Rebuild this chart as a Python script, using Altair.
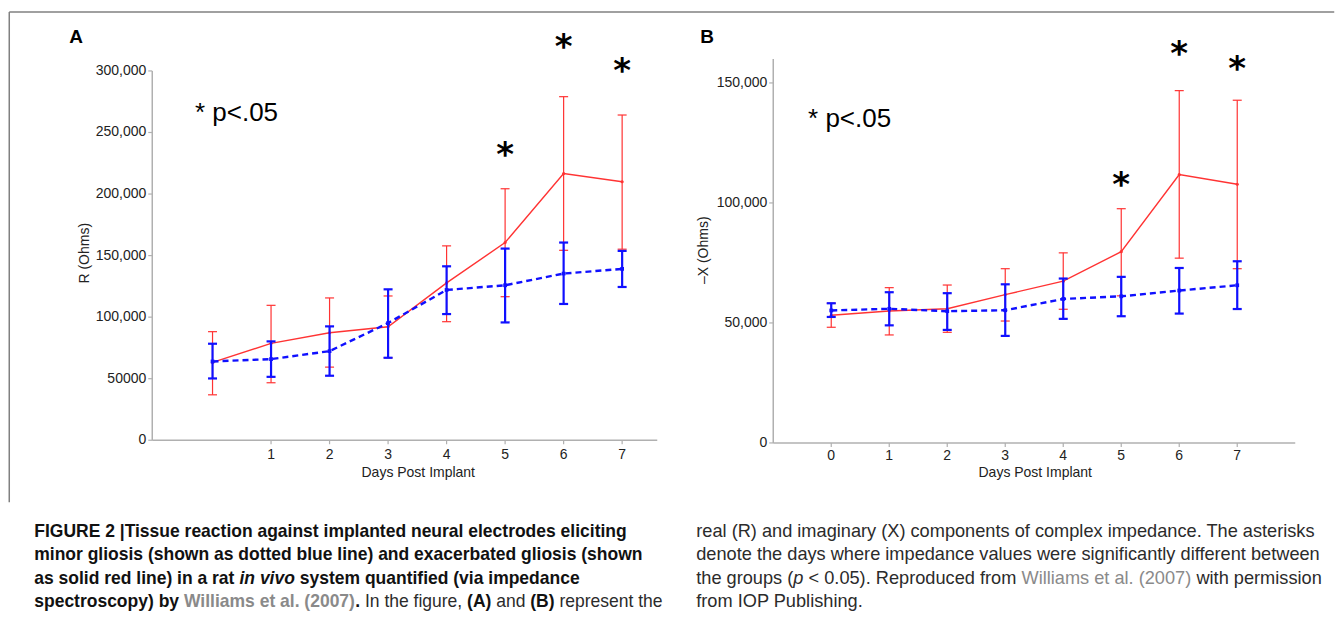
import altair as alt
import pandas as pd

# ---------------- data ----------------
days = [0, 1, 2, 3, 4, 5, 6, 7]

# Panel A : R (Ohms)
a_exac_mean = [63200, 78700, 87300, 92200, 127800, 160600, 216700, 210000]
a_exac_hi = [88200, 109600, 115600, 117200, 157900, 204300, 279100, 264200]
a_exac_lo = [36900, 46700, 59400, 67000, 96300, 116600, 154300, 155200]
a_minor_mean = [64000, 65900, 72400, 95200, 122100, 125900, 135400, 139200]
a_minor_hi = [78400, 80300, 92500, 122600, 141300, 155700, 160600, 153800]
a_minor_lo = [50200, 51500, 52400, 67000, 102500, 95700, 110700, 124500]

# Panel B : -X (Ohms)
b_exac_mean = [53200, 55000, 55900, 61800, 67400, 79700, 111800, 107800]
b_exac_hi = [58200, 64700, 65800, 72600, 79200, 97600, 146800, 142800]
b_exac_lo = [48200, 45000, 46100, 50800, 55700, 61300, 77000, 72600]
b_minor_mean = [55200, 55900, 54900, 55300, 60000, 61100, 63500, 65700]
b_minor_hi = [58200, 62800, 62400, 66100, 68500, 69200, 72900, 75700]
b_minor_lo = [52500, 49000, 47100, 44600, 51700, 52800, 53900, 55800]

# significance asterisks (day, height in data units)
a_star_days = [5, 6, 7]
a_star_vals = [237000, 325000, 306000]
b_star_days = [5, 6, 7]
b_star_vals = [110300, 164900, 158600]

# "* p<.05" note anchor (day, value)
a_note = (-0.30, 265600)
b_note = (-0.40, 134900)

# axis ticks and their labels
a_xticks = [1, 2, 3, 4, 5, 6, 7]
a_xlabels = ["1", "2", "3", "4", "5", "6", "7"]
a_yticks = [0, 50000, 100000, 150000, 200000, 250000, 300000]
a_ylabels = ["0", "50000", "100,000", "150,000", "200,000", "250,000", "300,000"]
b_xticks = [0, 1, 2, 3, 4, 5, 6, 7]
b_xlabels = ["0", "1", "2", "3", "4", "5", "6", "7"]
b_yticks = [0, 50000, 100000, 150000]
b_ylabels = ["0", "50,000", "100,000", "150,000"]

# ---------------- style / layout ----------------
RED = "#ff3333"
BLUE = "#1010ff"
AXIS = "#b0b0b0"
TXT = "#222222"
FONT = "Liberation Sans"

# page-pixel geometry of the two plot areas
A_LEFT, A_RIGHT, A_BOTTOM, A_TOP = 152, 657, 440, 70.7
B_LEFT, B_RIGHT, B_BOTTOM, B_TOP = 773, 1295, 442.7, 58.7
ROW_TOP = B_TOP
wA, hA = A_RIGHT - A_LEFT, A_BOTTOM - ROW_TOP
wB, hB = B_RIGHT - B_LEFT, B_BOTTOM - ROW_TOP


def AX(x):  # page x -> panel A local x
    return x - A_LEFT


def AY(y):  # page y -> panel A local y
    return y - ROW_TOP


xsA = alt.Scale(domain=[-1.03, 7.6], nice=False, zero=False)
ysA = alt.Scale(domain=[0, 300000], range=[hA, A_TOP - ROW_TOP], nice=False, zero=False)
xsB = alt.Scale(domain=[-1, 8], nice=False, zero=False)
ysB = alt.Scale(domain=[0, 160000], nice=False, zero=False)

one = pd.DataFrame({"a": [0]})


def axis_layers(xs, ys, xticks, xlabels, yticks, ylabels, w, h, ytop, lab_off):
    dom = alt.Chart(one).mark_rule(color=AXIS, strokeWidth=1.5)
    xdom = dom.encode(x=alt.value(0), x2=alt.value(w), y=alt.value(h))
    ydom = dom.encode(x=alt.value(0), y=alt.value(ytop), y2=alt.value(h))
    xt = pd.DataFrame({"v": xticks, "t": xlabels})
    yt = pd.DataFrame({"v": yticks, "t": ylabels})
    xtick = alt.Chart(xt).mark_rule(color=AXIS, strokeWidth=1.2).encode(
        x=alt.X("v:Q", scale=xs, axis=None), y=alt.value(h), y2=alt.value(h + 4))
    xlab = alt.Chart(xt).mark_text(font=FONT, fontSize=14, color=TXT, baseline="middle",
                                   align="center").encode(
        x=alt.X("v:Q", scale=xs, axis=None), y=alt.value(h + lab_off), text="t:N")
    ytick = alt.Chart(yt).mark_rule(color=AXIS, strokeWidth=1.2).encode(
        y=alt.Y("v:Q", scale=ys, axis=None), x=alt.value(-4), x2=alt.value(0))
    ylab = alt.Chart(yt).mark_text(font=FONT, fontSize=14, color=TXT, baseline="middle",
                                   align="right").encode(
        y=alt.Y("v:Q", scale=ys, axis=None), x=alt.value(-6), text="t:N")
    return [xdom, ydom, xtick, xlab, ytick, ylab]


def series(mean, lo, hi, color, lw, dash, cap_t, xs, ys, shape="circle", psize=10):
    df = pd.DataFrame({"day": days, "mean": mean, "lo": lo, "hi": hi})
    base = alt.Chart(df)
    X = alt.X("day:Q", scale=xs, axis=None)
    rule = base.mark_rule(color=color, strokeWidth=cap_t).encode(
        x=X, y=alt.Y("lo:Q", scale=ys, axis=None), y2="hi:Q")
    caps = base.transform_fold(["lo", "hi"], as_=["k", "v"]).mark_tick(
        orient="horizontal", color=color, size=9, thickness=cap_t, opacity=1
    ).encode(x=X, y=alt.Y("v:Q", scale=ys, axis=None))
    lkw = dict(color=color, strokeWidth=lw)
    if dash:
        lkw["strokeDash"] = dash
    line = base.mark_line(**lkw).encode(x=X, y=alt.Y("mean:Q", scale=ys, axis=None))
    pts = base.mark_point(filled=True, shape=shape, size=psize, color=color, opacity=1).encode(
        x=X, y=alt.Y("mean:Q", scale=ys, axis=None))
    return [rule, caps, line, pts]


def annotations(star_days, star_vals, note, xs, ys):
    sdf = pd.DataFrame({"day": star_days, "v": star_vals, "t": ["*"] * len(star_days)})
    stars = alt.Chart(sdf).mark_text(
        font="DejaVu Sans", fontSize=34, fontWeight="bold", baseline="middle",
        align="center", dy=8, color="black"
    ).encode(x=alt.X("day:Q", scale=xs, axis=None), y=alt.Y("v:Q", scale=ys, axis=None), text="t:N")
    ndf = pd.DataFrame({"day": [note[0]], "v": [note[1]], "t": ["* p<.05"]})
    note_t = alt.Chart(ndf).mark_text(
        font=FONT, fontSize=26, baseline="middle", align="left", color="black"
    ).encode(x=alt.X("day:Q", scale=xs, axis=None), y=alt.Y("v:Q", scale=ys, axis=None), text="t:N")
    return [stars, note_t]


# ---------------- text: titles, panel letters, caption ----------------
REG = {" ": 278, "(": 333, ")": 333, ",": 278, ".": 278, "-": 333, "<": 584, "|": 260,
       "A": 667, "B": 667, "I": 278, "O": 778, "P": 667, "R": 722, "T": 611, "W": 944, "X": 667,
       "a": 556, "b": 556, "c": 500, "d": 556, "e": 556, "f": 278, "g": 556, "h": 556, "i": 222,
       "j": 222, "k": 500, "l": 222, "m": 833, "n": 556, "o": 556, "p": 556, "q": 556, "r": 333,
       "s": 500, "t": 278, "u": 556, "v": 500, "w": 722, "x": 500, "y": 500, "z": 500}
BOLD = {" ": 278, "(": 333, ")": 333, ",": 278, ".": 278, "-": 333, "<": 584, "|": 280,
        "A": 722, "B": 722, "E": 667, "F": 611, "G": 778, "I": 278, "R": 722, "T": 611, "U": 722, "W": 944,
        "a": 556, "b": 611, "c": 556, "d": 611, "e": 556, "f": 333, "g": 611, "h": 611, "i": 278,
        "j": 278, "k": 556, "l": 278, "m": 889, "n": 611, "o": 611, "p": 611, "q": 611, "r": 389,
        "s": 556, "t": 333, "u": 611, "v": 556, "w": 778, "x": 556, "y": 556, "z": 500}


def tw(s, bold, size):
    t = BOLD if bold else REG
    return sum(t.get(c, 556) for c in s) * size / 1000.0


STYLES = {
    "b": dict(fontWeight="bold", fontStyle="normal", color="#111111"),
    "bg": dict(fontWeight="bold", fontStyle="normal", color="#8a8a8a"),
    "bi": dict(fontWeight="bold", fontStyle="italic", color="#111111"),
    "r": dict(fontWeight="normal", fontStyle="normal", color="#2b2b2b"),
    "rg": dict(fontWeight="normal", fontStyle="normal", color="#8a8a8a"),
    "ri": dict(fontWeight="normal", fontStyle="italic", color="#2b2b2b"),
}

cap_left = [
    [("FIGURE 2 |Tissue reaction against implanted neural electrodes eliciting", "b")],
    [("minor gliosis (shown as dotted blue line) and exacerbated gliosis (shown", "b")],
    [("as solid red line) in a rat ", "b"), ("in vivo", "bi"), (" system quantified (via impedance", "b")],
    [("spectroscopy) by ", "b"), ("Williams et al. (2007)", "bg"), (".", "b"), (" In the figure, ", "r"),
     ("(A)", "b"), (" and ", "r"), ("(B)", "b"), (" represent the", "r")],
]
cap_right = [
    [("real (R) and imaginary (X) components of complex impedance. The asterisks", "r")],
    [("denote the days where impedance values were significantly different between", "r")],
    [("the groups (", "r"), ("p", "ri"), (" < 0.05). Reproduced from ", "r"),
     ("Williams et al. (2007)", "rg"), (" with permission", "r")],
    [("from IOP Publishing.", "r")],
]
cap_baselines = [536.5, 560, 583.5, 607]
LEFT_X, LEFT_SIZE = 34, 17.5
RIGHT_X, RIGHT_SIZE = 696, 18.2

seg_rows = {k: [] for k in STYLES}


def add_column(lines, x0, size):
    for yb, segs in zip(cap_baselines, lines):
        cur = x0
        for s, st in segs:
            bold = st.startswith("b")
            lead = len(s) - len(s.lstrip(" "))
            txt = s.strip(" ")
            if txt:
                seg_rows[st].append({"t": txt, "x": AX(cur + tw(" " * lead, bold, size)),
                                     "y": AY(yb), "s": size})
            cur += tw(s, bold, size)


add_column(cap_left, LEFT_X, LEFT_SIZE)
add_column(cap_right, RIGHT_X, RIGHT_SIZE)

PX = dict(scale=None, axis=None)

text_layers = []
for st, rows in seg_rows.items():
    if not rows:
        continue
    sty = STYLES[st]
    for size in sorted(set(r["s"] for r in rows)):
        df = pd.DataFrame([r for r in rows if r["s"] == size])
        text_layers.append(
            alt.Chart(df).mark_text(font=FONT, fontSize=size, align="left", baseline="alphabetic",
                                    fontWeight=sty["fontWeight"], fontStyle=sty["fontStyle"],
                                    color=sty["color"])
            .encode(x=alt.X("x:Q", **PX), y=alt.Y("y:Q", **PX), text="t:N")
        )

# panel letters
text_layers.append(
    alt.Chart(pd.DataFrame({"t": ["A", "B"], "x": [AX(69), AX(700)], "y": [AY(43), AY(43)]})).mark_text(
        font=FONT, fontSize=19, fontWeight="bold", align="left", baseline="alphabetic", color="black"
    ).encode(x=alt.X("x:Q", **PX), y=alt.Y("y:Q", **PX), text="t:N")
)
# axis titles
text_layers.append(
    alt.Chart(pd.DataFrame({"t": ["Days Post Implant", "Days Post Implant"],
                            "x": [AX(418), AX(1035)], "y": [AY(473), AY(473)]})).mark_text(
        font=FONT, fontSize=14, align="center", baseline="middle", color=TXT
    ).encode(x=alt.X("x:Q", **PX), y=alt.Y("y:Q", **PX), text="t:N")
)
text_layers.append(
    alt.Chart(pd.DataFrame({"t": ["R (Ohms)", "\u2013X (Ohms)"],
                            "x": [AX(85), AX(704)], "y": [AY(253), AY(250)]})).mark_text(
        font=FONT, fontSize=14, align="center", baseline="middle", angle=270, color=TXT
    ).encode(x=alt.X("x:Q", **PX), y=alt.Y("y:Q", **PX), text="t:N")
)
# figure frame (top and left edges)
text_layers.append(alt.Chart(one).mark_rule(color="#808080", strokeWidth=1.5).encode(
    x=alt.value(AX(9)), x2=alt.value(AX(1334)), y=alt.value(AY(11.7))))
text_layers.append(alt.Chart(one).mark_rule(color="#808080", strokeWidth=1.5).encode(
    x=alt.value(AX(9)), y=alt.value(AY(11.7)), y2=alt.value(AY(502))))

panelA = alt.layer(
    *axis_layers(xsA, ysA, a_xticks, a_xlabels, a_yticks, a_ylabels, wA, hA, A_TOP - ROW_TOP, 15),
    *series(a_exac_mean, a_exac_lo, a_exac_hi, RED, 1.4, None, 1.2, xsA, ysA),
    *series(a_minor_mean, a_minor_lo, a_minor_hi, BLUE, 2.4, [6, 4], 2.2, xsA, ysA, shape="square", psize=14),
    *annotations(a_star_days, a_star_vals, a_note, xsA, ysA),
    *text_layers,
).properties(width=wA, height=hA)

panelB = alt.layer(
    *axis_layers(xsB, ysB, b_xticks, b_xlabels, b_yticks, b_ylabels, wB, hB, 0, 13),
    *series(b_exac_mean, b_exac_lo, b_exac_hi, RED, 1.4, None, 1.2, xsB, ysB),
    *series(b_minor_mean, b_minor_lo, b_minor_hi, BLUE, 2.4, [6, 4], 2.2, xsB, ysB, shape="square", psize=14),
    *annotations(b_star_days, b_star_vals, b_note, xsB, ysB),
).properties(width=wB, height=hB)

chart = alt.hconcat(panelA, panelB, spacing=B_LEFT - A_RIGHT).properties(
    bounds="flush",
    padding={"left": 0.25, "top": 2.95, "right": 0, "bottom": 0},
    background="white",
).configure_view(stroke=None)

chart.save("out.html", embed_options={"renderer": "svg", "actions": False})
